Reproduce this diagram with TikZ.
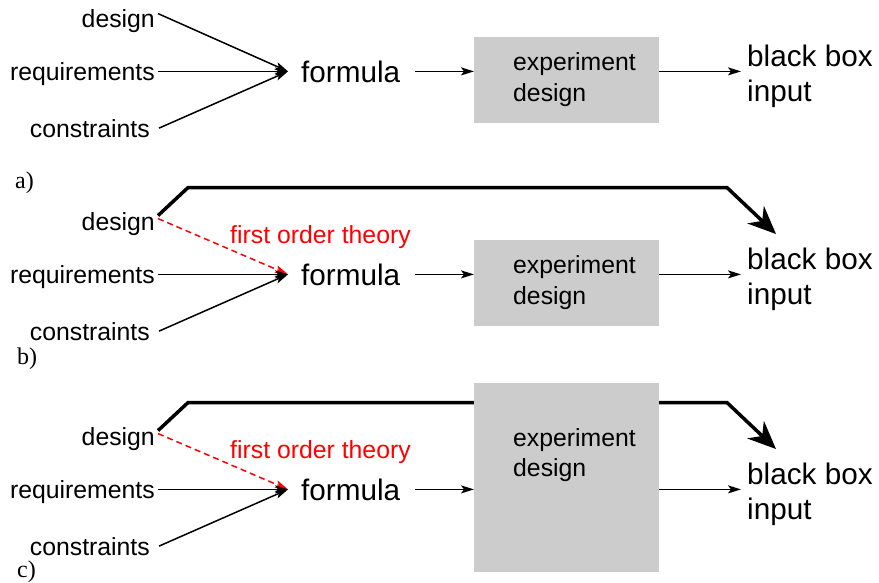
\documentclass[tikz,border=0pt]{standalone}
\usepackage{fontspec}
\setmainfont{Liberation Serif}
\newfontfamily\sansfam{Liberation Sans}
\usetikzlibrary{arrows.meta,calc}
\definecolor{boxgray}{HTML}{CCCCCC}
\newcommand\fsmall{\sansfam\fontsize{24.8}{30}\selectfont}
\newcommand\fbig{\sansfam\fontsize{29.7}{35}\selectfont}
\newcommand\fpanel{\rmfamily\fontsize{24}{28}\selectfont}

\tikzset{
  lbl/.style={font=\fsmall, inner sep=0pt, anchor=base east},
  big/.style={font=\fbig, inner sep=0pt, anchor=base west},
  boxtext/.style={font=\fsmall, inner sep=0pt, anchor=base west},
  panel/.style={font=\fpanel, inner sep=0pt, anchor=base west},
  flow/.style={line width=1.5pt, -{Stealth[length=13pt,width=8pt,inset=3pt]}},
  theory/.style={red, line width=1.5pt, dash pattern=on 6pt off 4pt,
    -{Stealth[length=13pt,width=8pt,inset=3pt]}},
  bypass/.style={line width=3.5pt, -{Stealth[length=28pt,width=24pt,inset=9pt]}},
  stage/.style={fill=boxgray, inner sep=0pt, anchor=north west, minimum width=185pt},
}

% inputs, formula and the black box label of one row
\newcommand\feedtexts{%
  \node[lbl] (des) at (155,27) {design};
  \node[lbl] (req) at (155,80) {requirements};
  \node[lbl] (con) at (150,137) {constraints};
  \node[big] (for) at (301,82) {formula};
  \coordinate (j) at ([xshift=-13pt]for.west);
  \node[big] (bb) at (747,66) {black box};
  \node[big] (bbi) at (747,101) {input};
}
% the direct design arrow (row a only)
\newcommand\designarrow{%
  \draw[flow] ([xshift=3pt,yshift=7pt]des.east) -- (j);
}
% the remaining thin arrows of one row
\newcommand\feedarrows{%
  \draw[flow] ($(req.east |- j)+(3,0)$) -- (j);
  \draw[flow] ([xshift=9pt]con.east) -- (j);
  \draw[flow] ([xshift=15pt]for.east) -- (for.east -| box.west);
  \draw[flow] (box.east |- for.east) -- ($(for.east -| bb.west)+(-6,0)$);
}
% the first order theory shortcut and the direct design path
\newcommand\bypassline{%
  \coordinate (tip) at (776,31);
  \draw[theory] ([xshift=3pt,yshift=5pt]des.east) -- (j);
  \node[font=\fsmall, text=red, inner sep=0pt, anchor=base west] (fot) at (230,40) {first order theory};
  \draw[bypass] ([xshift=3pt,yshift=8pt]des.east) -- ++(30,-28) -- ++(539,0) -- (tip);
}

\begin{document}
\begin{tikzpicture}[x=1pt,y=-1pt]
\useasboundingbox (0,0) rectangle (879,582);

\begin{scope}[name prefix=a-]
  \feedtexts
  \node[stage, minimum height=86pt] (box) at (474,37) {};
  \node[boxtext] (ex1) at (513,70) {experiment};
  \node[boxtext] (ex2) at (513,101) {design};
  \designarrow
  \feedarrows
\end{scope}

\begin{scope}[shift={(0,203)}, name prefix=b-]
  \feedtexts
  \bypassline
  \node[stage, minimum height=86pt] (box) at (474,37) {};
  \node[boxtext] (ex1) at (513,70) {experiment};
  \node[boxtext] (ex2) at (513,101) {design};
  \feedarrows
\end{scope}

\begin{scope}[shift={(0,418)}, name prefix=c-]
  \feedtexts
  \bypassline
  \node[stage, minimum height=189pt] (box) at (474,-35) {};
  \node[boxtext] (ex1) at (513,28) {experiment};
  \node[boxtext] (ex2) at (513,58) {design};
  \feedarrows
\end{scope}

\node[panel] (la) at (15,188) {a)};
\node[panel] (lb) at (17,364) {b)};
\node[panel] (lc) at (17,577) {c)};
\end{tikzpicture}
\end{document}
